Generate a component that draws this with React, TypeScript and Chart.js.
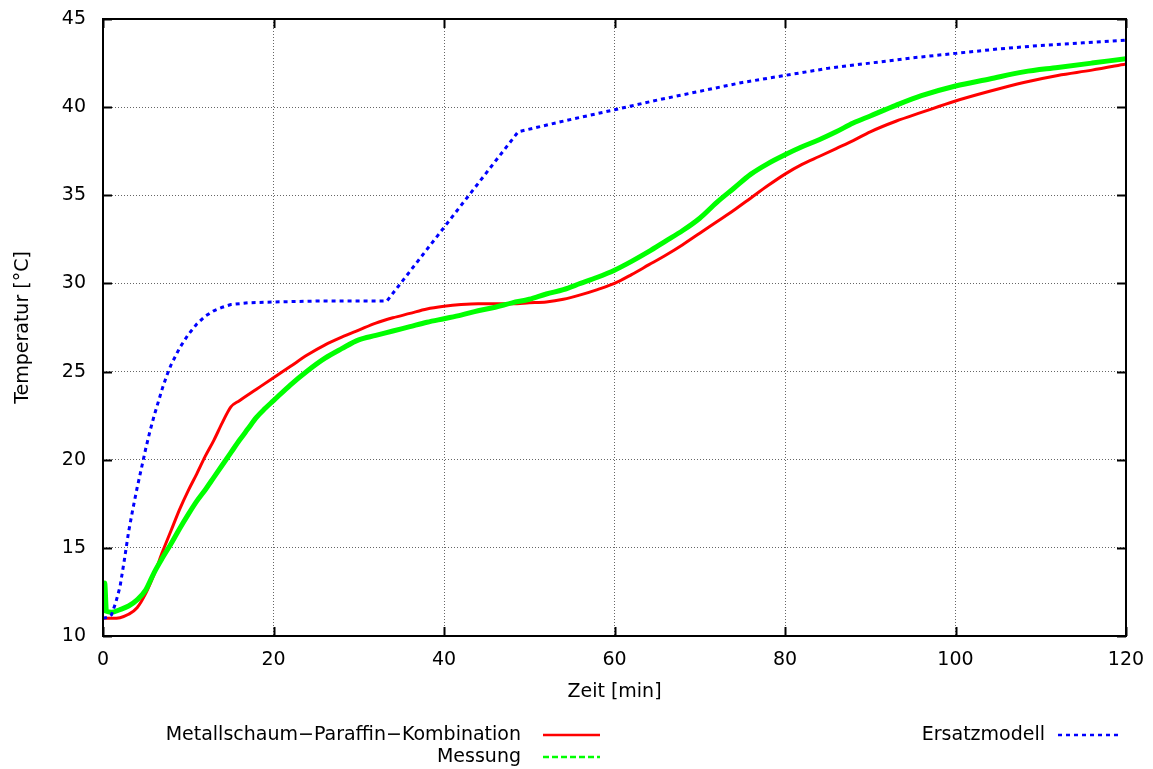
import { useEffect, useRef } from "react";
import { Chart, registerables } from "chart.js";

Chart.register(...registerables);

const WIDTH = 1153;
const HEIGHT = 769;
const FONT_FAMILY = "'DejaVu Sans', 'Liberation Sans', sans-serif";
const FONT_SIZE = 19;

// Axis ticks
const xTicks = [0, 20, 40, 60, 80, 100, 120];
const yTicks = [10, 15, 20, 25, 30, 35, 40, 45];

// Series labels
const labelSimulation = "Metallschaum\u2212Paraffin\u2212Kombination";
const labelMeasurement = "Messung";
const labelModel = "Ersatzmodell";

// Metallschaum-Paraffin-Kombination (simulation)
const simTime = [
  0, 1, 2, 3, 4, 5, 6, 7, 8, 9, 10, 11, 12, 13, 14, 15, 16,
  18, 20, 22, 24, 26, 28, 30, 32, 34, 36, 38, 40, 42, 44, 46, 48, 50, 52, 54,
  56, 58, 60, 62, 64, 66, 68, 70, 72, 74, 76, 78, 80, 82, 84, 86, 88, 90,
  93, 96, 100, 104, 108, 112, 116, 120,
];
const simTemp = [
  11.0, 11.0, 11.04, 11.23, 11.6, 12.4, 13.5, 14.8, 16.0, 17.2, 18.25, 19.2, 20.2, 21.1, 22.1, 23.0, 23.35,
  24.0, 24.65, 25.3, 25.95, 26.5, 26.95, 27.35, 27.75, 28.05, 28.3, 28.55, 28.7, 28.8, 28.85, 28.85, 28.85, 28.9, 28.95, 29.1,
  29.35, 29.65, 30.0, 30.5, 31.05, 31.6, 32.2, 32.85, 33.5, 34.15, 34.85, 35.55, 36.2, 36.75, 37.2, 37.65, 38.1, 38.6,
  39.2, 39.7, 40.35, 40.9, 41.4, 41.8, 42.1, 42.45,
];

// Messung (measured temperature)
const measTime = [
  0, 0.2, 0.4, 1, 2, 3, 4, 5, 6, 7, 8, 9, 10, 11, 12, 13, 14, 15, 16, 17, 18, 19, 20,
  22, 24, 26, 28, 30, 32, 34, 36, 38, 40, 42, 44, 46, 48, 50, 52, 54, 56, 58, 60,
  62, 64, 66, 68, 70, 72, 74, 76, 78, 80, 82, 84, 86, 88, 90, 93, 96, 100, 104, 108,
  112, 116, 120,
];
const measTemp = [
  11.3, 13.0, 11.4, 11.35, 11.5, 11.7, 12.05, 12.6, 13.6, 14.45, 15.25, 16.1, 16.9, 17.65, 18.3, 19.0, 19.7, 20.4, 21.1, 21.75, 22.4, 22.9, 23.35,
  24.25, 25.05, 25.75, 26.3, 26.8, 27.05, 27.3, 27.55, 27.8, 28.0, 28.2, 28.45, 28.65, 28.9, 29.1, 29.4, 29.65, 30.0, 30.35, 30.75,
  31.25, 31.8, 32.4, 33.0, 33.7, 34.6, 35.4, 36.2, 36.8, 37.3, 37.75, 38.15, 38.6, 39.1, 39.5, 40.1, 40.65, 41.2, 41.6, 42.0,
  42.25, 42.5, 42.75,
];

// Ersatzmodell (substitute model)
const modelTime = [
  0, 0.5, 1, 1.5, 2, 2.5, 3, 3.5, 4, 4.5, 5, 5.5, 6, 6.5, 7, 7.5, 8, 9, 10, 11, 12, 13, 14, 15,
  17, 20, 25, 33.3, 48.7, 54.4, 60, 65, 70, 75, 80, 85, 90, 95, 100, 105, 110, 115, 120,
];
const modelTemp = [
  11.0, 11.05, 11.2, 11.9, 12.8, 14.3, 15.9, 17.2, 18.4, 19.5, 20.6, 21.6, 22.5, 23.3, 24.1, 24.8, 25.4, 26.35, 27.1, 27.7, 28.15, 28.45, 28.65, 28.8,
  28.9, 28.95, 29.0, 29.0, 38.6, 39.25, 39.85, 40.4, 40.9, 41.4, 41.8, 42.2, 42.5, 42.8, 43.05, 43.3, 43.5, 43.65, 43.8,
];

const RED = "#ff0000";
const GREEN = "#00ff00";
const BLUE = "#0000ff";

const toPoints = (xs: number[], ys: number[]) => xs.map((x, i) => ({ x, y: ys[i] }));

// Frame, inward ticks, tick labels, axis titles and the key below the axes.
const framePlugin = {
  id: "frame",
  afterDraw(chart: any) {
    const { ctx, chartArea, scales } = chart;
    const { left, right, top, bottom } = chartArea;
    const xs = scales.x;
    const ys = scales.y;
    const tickLen = 9;
    ctx.save();

    ctx.strokeStyle = "#000";
    ctx.lineWidth = 2;
    ctx.beginPath();
    for (const v of xTicks) {
      const px = Math.round(xs.getPixelForValue(v)) + 0.5;
      ctx.moveTo(px, bottom);
      ctx.lineTo(px, bottom - tickLen);
      ctx.moveTo(px, top);
      ctx.lineTo(px, top + tickLen);
    }
    for (const v of yTicks) {
      const py = Math.round(ys.getPixelForValue(v)) + 0.5;
      ctx.moveTo(left, py);
      ctx.lineTo(left + tickLen, py);
      ctx.moveTo(right, py);
      ctx.lineTo(right - tickLen, py);
    }
    ctx.stroke();

    ctx.lineWidth = 2;
    ctx.strokeRect(left, top, right - left, bottom - top);

    ctx.fillStyle = "#000";
    ctx.font = `${FONT_SIZE}px ${FONT_FAMILY}`;

    ctx.textAlign = "center";
    ctx.textBaseline = "middle";
    for (const v of xTicks) {
      ctx.fillText(String(v), xs.getPixelForValue(v), bottom + 24);
    }
    ctx.textAlign = "right";
    for (const v of yTicks) {
      ctx.fillText(String(v), left - 17, ys.getPixelForValue(v));
    }

    ctx.textAlign = "center";
    ctx.fillText("Zeit [min]", (left + right) / 2, 692);

    ctx.save();
    ctx.translate(23, (top + bottom) / 2);
    ctx.rotate(-Math.PI / 2);
    ctx.fillText("Temperatur [\u00b0C]", 0, 0);
    ctx.restore();

    const row1 = 735;
    const row2 = 757;
    const drawKey = (label: string, textRight: number, y: number, x0: number, x1: number, color: string, dash: number[]) => {
      ctx.textAlign = "right";
      ctx.fillStyle = "#000";
      ctx.fillText(label, textRight, y);
      ctx.strokeStyle = color;
      ctx.lineWidth = 2.5;
      ctx.setLineDash(dash);
      ctx.beginPath();
      ctx.moveTo(x0, y);
      ctx.lineTo(x1, y);
      ctx.stroke();
      ctx.setLineDash([]);
    };
    drawKey(labelSimulation, 521, row1, 543, 600, RED, []);
    drawKey(labelMeasurement, 521, row2, 543, 600, GREEN, [6, 3]);
    drawKey(labelModel, 1045, row1, 1058, 1118, BLUE, [4, 4]);

    ctx.restore();
  },
};

export default function App() {
  const canvasRef = useRef<HTMLCanvasElement | null>(null);

  useEffect(() => {
    const canvas = canvasRef.current;
    if (!canvas) return;
    const gridStyle = {
      color: "rgba(0,0,0,0.6)",
      lineWidth: 1,
      drawTicks: false,
    };
    const chart = new Chart(canvas, {
      type: "line",
      data: {
        datasets: [
          {
            label: labelModel,
            data: toPoints(modelTime, modelTemp),
            borderColor: BLUE,
            borderWidth: 3,
            borderDash: [4, 4],
            borderCapStyle: "butt",
            tension: 0,
            pointRadius: 0,
            fill: false,
          },
          {
            label: labelMeasurement,
            data: toPoints(measTime, measTemp),
            borderColor: GREEN,
            borderWidth: 5,
            cubicInterpolationMode: "monotone",
            pointRadius: 0,
            fill: false,
          },
          {
            label: labelSimulation,
            data: toPoints(simTime, simTemp),
            borderColor: RED,
            borderWidth: 3,
            cubicInterpolationMode: "monotone",
            pointRadius: 0,
            fill: false,
          },
        ],
      },
      options: {
        responsive: false,
        maintainAspectRatio: false,
        animation: false,
        events: [],
        layout: { padding: { left: 0, top: 19, right: 27, bottom: 0 } },
        plugins: {
          legend: { display: false },
          tooltip: { enabled: false },
        },
        scales: {
          x: {
            type: "linear",
            min: 0,
            max: 120,
            ticks: { display: false, stepSize: 20 },
            grid: gridStyle,
            border: { display: false, dash: [1, 2] },
            afterFit(scale: any) {
              scale.height = 133;
            },
          },
          y: {
            type: "linear",
            min: 10,
            max: 45,
            ticks: { display: false, stepSize: 5 },
            grid: gridStyle,
            border: { display: false, dash: [1, 2] },
            afterFit(scale: any) {
              scale.width = 103;
            },
          },
        },
      },
      plugins: [framePlugin],
    } as any);
    return () => chart.destroy();
  }, []);

  return (
    <div style={{ position: "absolute", left: 0, top: 0, width: WIDTH, height: HEIGHT, background: "#fff" }}>
      <canvas ref={canvasRef} width={WIDTH} height={HEIGHT} style={{ display: "block" }} />
    </div>
  );
}
